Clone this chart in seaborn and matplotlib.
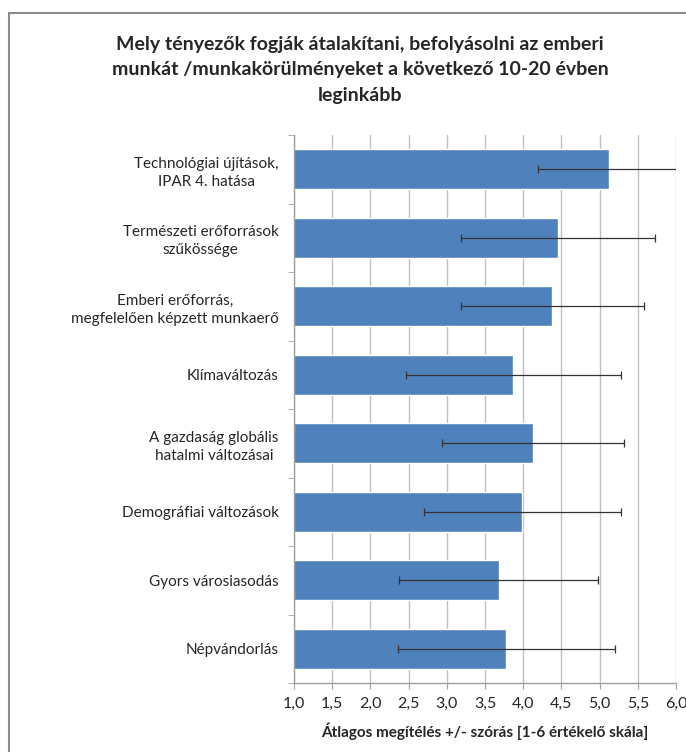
import numpy as np
import pandas as pd
import matplotlib
matplotlib.use("Agg")
import matplotlib.pyplot as plt
from matplotlib.patches import Rectangle
from matplotlib.ticker import FixedLocator
import seaborn as sns

# data
categories = ["Technológiai újítások,\nIPAR 4. hatása",
              "Természeti erőforrások\nszűkössége",
              "Emberi erőforrás,\nmegfelelően képzett munkaerő",
              "Klímaváltozás",
              "A gazdaság globális\nhatalmi változásai",
              "Demográfiai változások",
              "Gyors városiasodás",
              "Népvándorlás"]
means = [5.12, 4.46, 4.38, 3.87, 4.13, 3.99, 3.68, 3.78]
sds = [0.92, 1.27, 1.20, 1.41, 1.19, 1.29, 1.30, 1.42]
xticks = [1.0, 1.5, 2.0, 2.5, 3.0, 3.5, 4.0, 4.5, 5.0, 5.5, 6.0]

sns.set_style("white")
plt.rcParams['font.family'] = ['Lato', 'DejaVu Sans']

df = pd.DataFrame({"cat": categories, "mean": means, "sd": sds})

fig = plt.figure(figsize=(6.86, 7.52), dpi=100)
ax = fig.add_axes([294/686, 1 - 683/752, 382/686, 548/752])

sns.barplot(data=df, x="mean", y="cat", orient="h", color="#4F81BD",
            saturation=1, width=0.58, errorbar=None, ax=ax, zorder=2)
ax.errorbar(df["mean"], np.arange(len(df)), xerr=df["sd"], fmt="none",
            ecolor="#333333", elinewidth=0.9, capsize=3, capthick=0.9, zorder=3)

ax.set_xlim(1, 6)
ax.set_ylim(len(df) - 0.5, -0.5)
ax.set_xticks(xticks)
ax.set_xticklabels([f"{v:.1f}".replace(".", ",") for v in xticks], fontsize=11.5)
ax.grid(axis="x", color="#c0c0c0", linewidth=1, zorder=0)
ax.set_axisbelow(True)

ax.tick_params(axis="y", which="major", length=0, labelsize=11, pad=11)
ax.yaxis.set_minor_locator(FixedLocator(np.arange(-0.5, len(df), 1)))
ax.tick_params(axis="y", which="minor", length=4, color="#a0a0a0", left=True)
ax.tick_params(axis="x", length=4, color="#a0a0a0", bottom=True, pad=6)
for lab in ax.get_yticklabels():
    lab.set_multialignment("center")
    lab.set_linespacing(1.35)

for s in ["top", "right"]:
    ax.spines[s].set_visible(False)
for s in ["left", "bottom"]:
    ax.spines[s].set_color("#a0a0a0")
    ax.spines[s].set_linewidth(1)

ax.set_ylabel("")
ax.set_xlabel("Átlagos megítélés +/- szórás [1-6 értékelő skála]",
              fontsize=11, fontweight="bold", labelpad=8)

fig.text(0.525, 0.952, "Mely tényezők fogják átalakítani, befolyásolni az emberi\n"
         "munkát /munkakörülményeket a következő 10-20 évben\nleginkább",
         ha="center", va="top", fontsize=14, fontweight="bold", linespacing=1.6)

fig.add_artist(Rectangle((8.5/686, -0.05), 1.0, 1 - 13/752 + 0.05,
                         transform=fig.transFigure, fill=False,
                         edgecolor="#8c8c8c", linewidth=1.5))

fig.savefig("out.png", dpi=100)
